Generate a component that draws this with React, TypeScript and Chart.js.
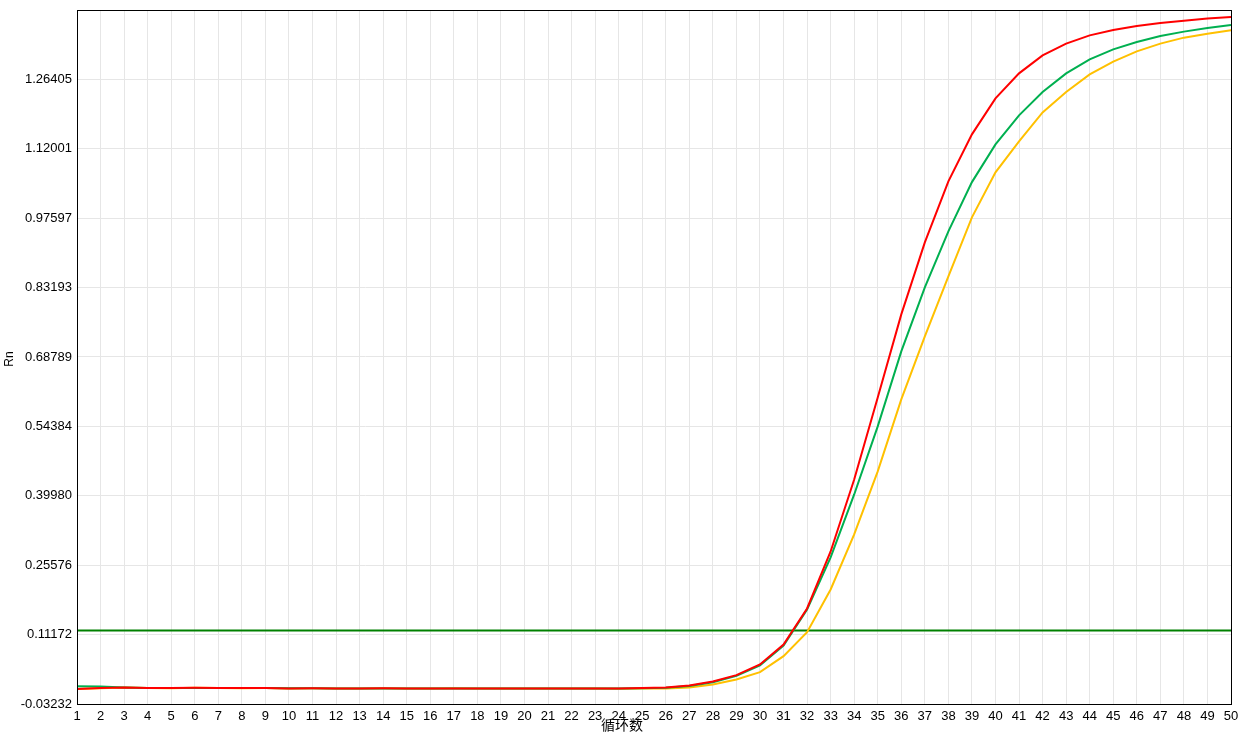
import React, { useEffect, useRef } from "react";
import { Chart, registerables } from "chart.js";

Chart.register(...registerables);

const CYCLES: string[] = Array.from({ length: 50 }, (_, i) => String(i + 1));

const RED: number[] = [
  -0.0010, 0.0009, 0.0020, 0.0010, 0.0010, 0.0013, 0.0010, 0.0010, 0.0010, 0.0000,
  0.0004, 0.0000, 0.0000, 0.0002, 0.0000, -0.0002, 0.0000, -0.0004, -0.0004, -0.0004,
  -0.0004, -0.0004, 0.0000, -0.0004, 0.0009, 0.0020, 0.0061, 0.0144, 0.0275, 0.0497,
  0.0912, 0.1660, 0.2843, 0.4337, 0.6040, 0.7763, 0.9258, 1.0524, 1.1500, 1.2247,
  1.2766, 1.3140, 1.3383, 1.3555, 1.3665, 1.3748, 1.3810, 1.3860, 1.3902, 1.3935,
];

const GREEN: number[] = [
  0.0046, 0.0040, 0.0020, 0.0010, 0.0008, 0.0010, 0.0008, 0.0008, 0.0008, 0.0002,
  0.0004, 0.0000, 0.0000, 0.0000, 0.0000, -0.0002, 0.0000, -0.0004, -0.0004, -0.0004,
  -0.0004, -0.0004, -0.0002, -0.0004, 0.0006, 0.0014, 0.0051, 0.0130, 0.0260, 0.0476,
  0.0891, 0.1639, 0.2718, 0.4026, 0.5438, 0.6995, 0.8323, 0.9486, 1.0509, 1.1292,
  1.1894, 1.2378, 1.2766, 1.3057, 1.3264, 1.3416, 1.3540, 1.3632, 1.3707, 1.3769,
];

const YELLOW: number[] = [
  -0.0010, 0.0006, 0.0018, 0.0008, 0.0006, 0.0014, 0.0008, 0.0006, 0.0008, 0.0000,
  0.0002, -0.0002, 0.0000, 0.0002, 0.0000, -0.0002, 0.0002, -0.0004, -0.0002, -0.0004,
  -0.0004, -0.0002, 0.0000, -0.0006, 0.0000, 0.0000, 0.0020, 0.0082, 0.0186, 0.0337,
  0.0669, 0.1168, 0.2054, 0.3196, 0.4504, 0.5998, 0.7306, 0.8552, 0.9777, 1.0711,
  1.1354, 1.1956, 1.2378, 1.2745, 1.3009, 1.3223, 1.3383, 1.3507, 1.3590, 1.3659,
];

const THRESHOLD_VALUE = 0.1200;
const THRESHOLD: number[] = CYCLES.map(() => THRESHOLD_VALUE);

const Y_TICK_VALUES: number[] = [
  -0.03232, 0.11172, 0.25576, 0.3998, 0.54384, 0.68789, 0.83193, 0.97597, 1.12001, 1.26405, 1.40809,
];
const Y_TICK_LABELS: string[] = [
  "-0.03232", "0.11172", "0.25576", "0.39980", "0.54384", "0.68789", "0.83193", "0.97597", "1.12001", "1.26405", "",
];

const X_TITLE = "循环数";
const Y_TITLE = "Rn";

const FONT = "'Liberation Sans', Arial, sans-serif";

const framePlugin = {
  id: "frameAndTitles",
  afterDraw(chart: any) {
    const { ctx, chartArea: a } = chart;
    ctx.save();
    ctx.strokeStyle = "#000";
    ctx.lineWidth = 1;
    ctx.strokeRect(a.left + 0.5, a.top + 0.5, a.right - a.left, a.bottom - a.top);
    ctx.fillStyle = "#000";
    ctx.font = "14px 'Noto Sans CJK SC', sans-serif";
    ctx.textAlign = "center";
    ctx.textBaseline = "middle";
    ctx.fillText(X_TITLE, 622, 725);
    ctx.translate(10, 359);
    ctx.rotate(-Math.PI / 2);
    ctx.font = "12px " + FONT;
    ctx.fillText(Y_TITLE, 0, 0);
    ctx.restore();
  },
};

export default function App() {
  const ref = useRef<HTMLCanvasElement | null>(null);

  useEffect(() => {
    if (!ref.current) return;
    const line = (data: number[], color: string) => ({
      data,
      borderColor: color,
      backgroundColor: color,
      borderWidth: 2,
      pointRadius: 0,
      tension: 0,
      fill: false,
    });
    const chart = new Chart(ref.current, {
      type: "line",
      data: {
        labels: CYCLES,
        datasets: [
          line(RED, "#FF0000"),
          line(GREEN, "#00B050"),
          line(YELLOW, "#FFC000"),
          line(THRESHOLD, "#008000"),
        ],
      },
      options: {
        responsive: false,
        animation: false,
        devicePixelRatio: 1,
        layout: { padding: { top: 10, right: 16, left: 0, bottom: 0 } },
        plugins: {
          legend: { display: false },
          tooltip: { enabled: false },
        },
        scales: {
          x: {
            type: "category",
            offset: false,
            grid: { color: "#E6E6E6", drawTicks: false },
            border: { display: false },
            ticks: {
              color: "#000",
              font: { family: FONT, size: 13 },
              padding: 5,
              autoSkip: false,
              maxRotation: 0,
            },
            afterFit: (s: any) => {
              s.height = 32;
              s.paddingLeft = 0;
              s.paddingRight = 0;
            },
          },
          y: {
            min: -0.03232,
            max: 1.40809,
            grid: { color: "#E6E6E6", drawTicks: false },
            border: { display: false },
            afterBuildTicks: (s: any) => {
              s.ticks = Y_TICK_VALUES.map((v) => ({ value: v }));
            },
            ticks: {
              color: "#000",
              font: { family: FONT, size: 13 },
              padding: 5,
              callback: (_v: any, i: number) => Y_TICK_LABELS[i],
            },
            afterFit: (s: any) => {
              s.width = 77;
              s.paddingTop = 0;
              s.paddingBottom = 0;
            },
          },
        },
      },
      plugins: [framePlugin],
    });
    return () => chart.destroy();
  }, []);

  return (
    <div style={{ position: "fixed", left: 0, top: 0, width: 1247, height: 736, background: "#fff" }}>
      <canvas ref={ref} width={1247} height={736} style={{ width: 1247, height: 736 }} />
    </div>
  );
}
